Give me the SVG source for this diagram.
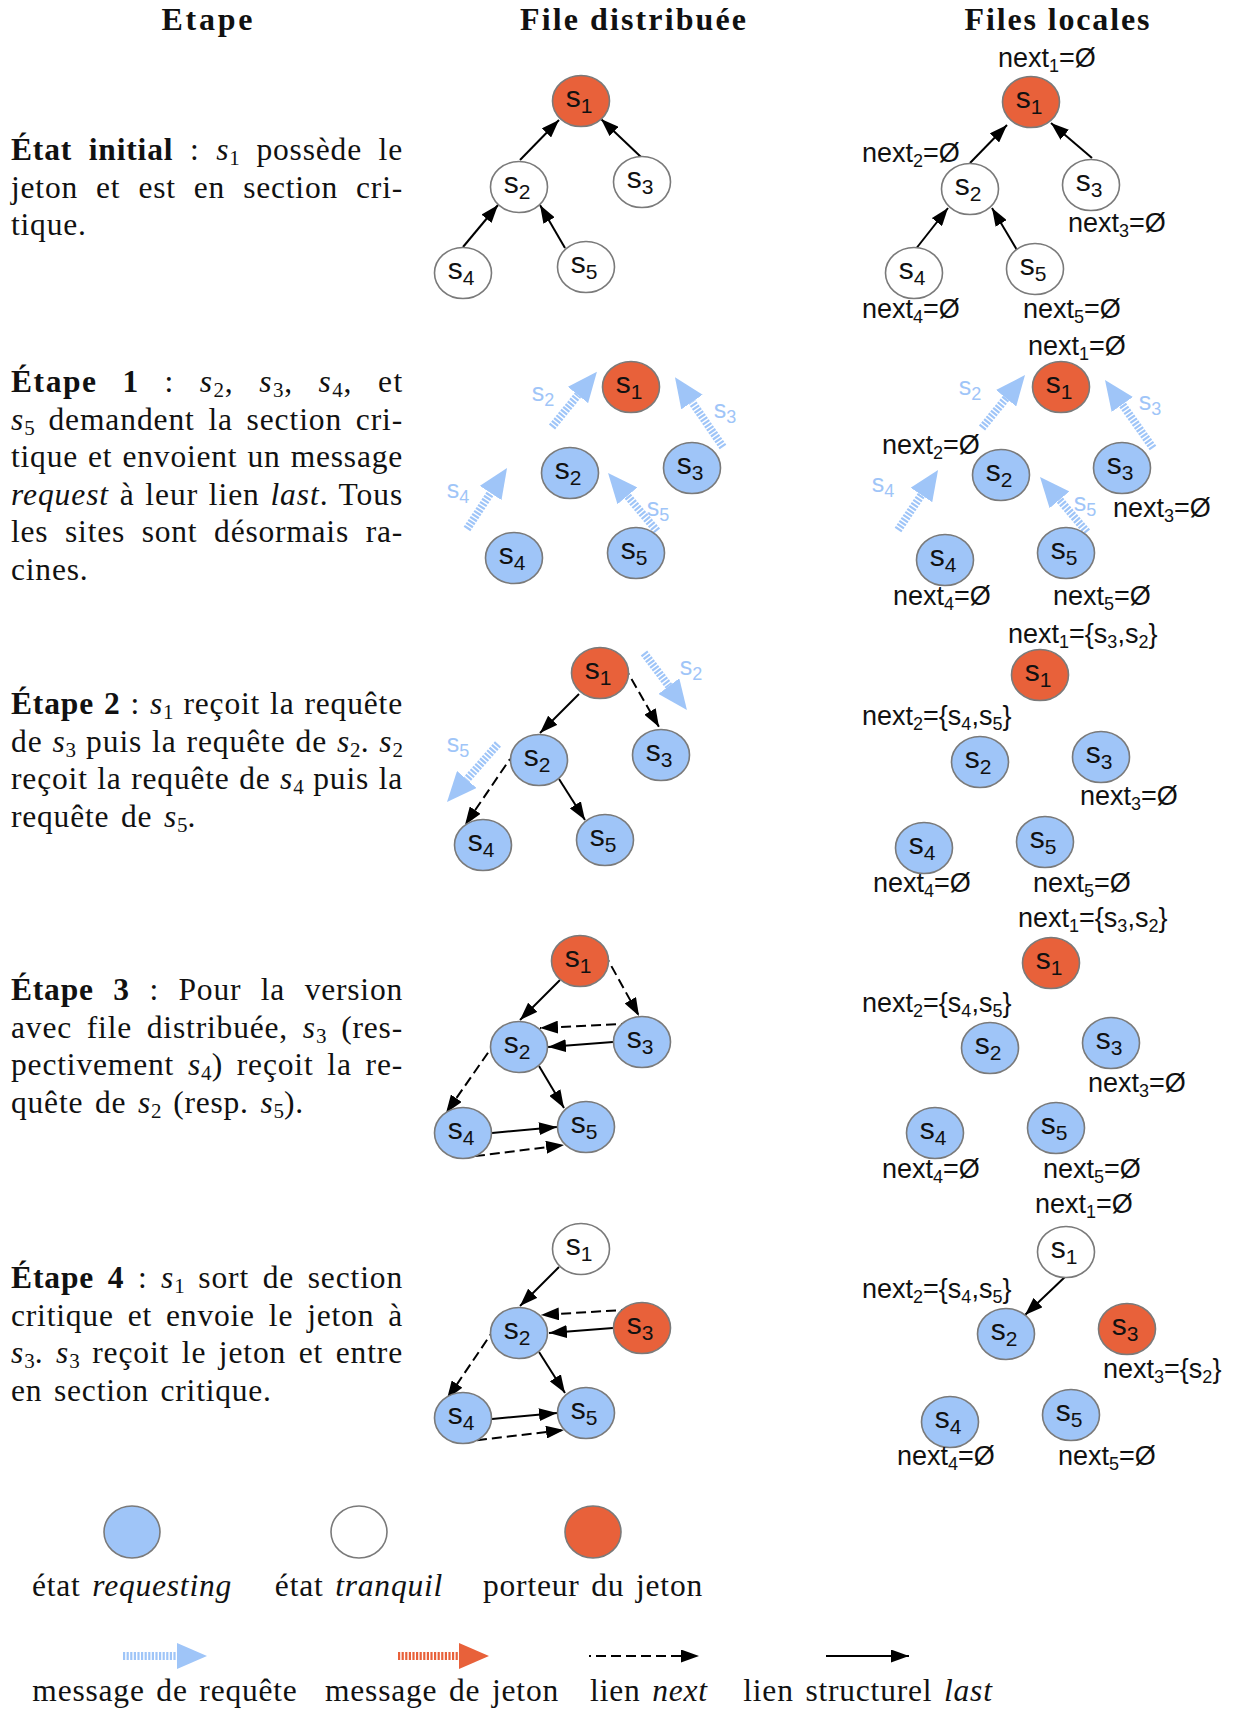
<svg xmlns="http://www.w3.org/2000/svg" width="1240" height="1711" viewBox="0 0 1240 1711">
  <style>
    .nd { stroke: #7a7a7a; stroke-width: 1.6; }
    .rqs { fill: #9fc5f8; }
    .tok { fill: #e8613a; }
    .idle { fill: #ffffff; }
    .lbl { font-family: "Liberation Sans", Arial, sans-serif; font-size: 30px; fill: #111; text-anchor: middle; }
    .lbl .sb { font-size: 21px; }
    .nx { font-family: "Liberation Sans", Arial, sans-serif; font-size: 27px; fill: #111; }
    .nx .sb { font-size: 18px; }
    .rl { font-family: "Liberation Sans", Arial, sans-serif; font-size: 25px; fill: #9fc5f8; text-anchor: middle; }
    .rl .sb { font-size: 18px; }
    .tx { font-family: "Liberation Serif", "Times New Roman", serif; font-size: 31.5px; letter-spacing: 0.8px; word-spacing: 3px; fill: #111; }
    .tx .sb { font-size: 21px; letter-spacing: 0; }
    .b { font-weight: bold; }
    .i { font-style: italic; }
    .hd { font-family: "Liberation Serif", "Times New Roman", serif; font-size: 32px; font-weight: bold; fill: #111; text-anchor: middle; }
    .last { stroke: #000; stroke-width: 2; fill: none; marker-end: url(#ah); }
    .next { stroke: #000; stroke-width: 2; fill: none; stroke-dasharray: 2 5 10 5 10 5 10 5 10 5 10 5 10 5 10 5; marker-end: url(#ah); }
    .msg { stroke: #9fc5f8; stroke-width: 8; fill: none; stroke-dasharray: 2.2 1.4; marker-end: url(#rh); }
    .tmsg { stroke: #e8613a; stroke-width: 8; fill: none; stroke-dasharray: 2.2 1.4; marker-end: url(#th); }
  </style>
  <defs>
    <marker id="ah" viewBox="0 0 18 13" refX="18" refY="6.5" markerWidth="18" markerHeight="13" markerUnits="userSpaceOnUse" orient="auto">
      <path d="M0,0 L18,6.5 L0,13 z" fill="#000"/>
    </marker>
    <marker id="rh" viewBox="0 0 30 26" refX="0" refY="13" markerWidth="30" markerHeight="26" markerUnits="userSpaceOnUse" orient="auto">
      <path d="M0,0 L30,13 L0,26 z" fill="#9fc5f8"/>
    </marker>
    <marker id="th" viewBox="0 0 30 26" refX="0" refY="13" markerWidth="30" markerHeight="26" markerUnits="userSpaceOnUse" orient="auto">
      <path d="M0,0 L30,13 L0,26 z" fill="#e8613a"/>
    </marker>
  </defs>
  <rect width="1240" height="1711" fill="#fff"/>

  <!-- column headings -->
  <g id="headings">
    <text class="hd" x="207" y="30" textLength="91" lengthAdjust="spacing">Etape</text>
    <text class="hd" x="633" y="30" textLength="226" lengthAdjust="spacing">File distribuée</text>
    <text class="hd" x="1057" y="30" textLength="185" lengthAdjust="spacing">Files locales</text>
  </g>

  <!-- step descriptions (justified lines: word gaps widened, then fitted to the column width) -->
  <g id="descriptions">
    <text class="tx" x="11" y="160" style="word-spacing:7.9px" textLength="392" lengthAdjust="spacing"><tspan class="b">État initial</tspan> : <tspan class="i">s</tspan><tspan class="sb" dy="5">1</tspan><tspan dy="-5"> possède le</tspan></text>
    <text class="tx" x="11" y="197.5" style="word-spacing:9.3px" textLength="392" lengthAdjust="spacing">jeton et est en section cri-</text>
    <text class="tx" x="11" y="235">tique.</text>

    <text class="tx" x="11" y="392" style="word-spacing:15.4px" textLength="392" lengthAdjust="spacing"><tspan class="b">Étape 1</tspan> : <tspan class="i">s</tspan><tspan class="sb" dy="5">2</tspan><tspan dy="-5">, </tspan><tspan class="i">s</tspan><tspan class="sb" dy="5">3</tspan><tspan dy="-5">, </tspan><tspan class="i">s</tspan><tspan class="sb" dy="5">4</tspan><tspan dy="-5">, et</tspan></text>
    <text class="tx" x="11" y="429.5" style="word-spacing:4.9px" textLength="392" lengthAdjust="spacing"><tspan class="i">s</tspan><tspan class="sb" dy="5">5</tspan><tspan dy="-5"> demandent la section cri-</tspan></text>
    <text class="tx" x="11" y="467" style="word-spacing:1.4px" textLength="392" lengthAdjust="spacing">tique et envoient un message</text>
    <text class="tx" x="11" y="504.5" style="word-spacing:1.9px" textLength="392" lengthAdjust="spacing"><tspan class="i">request</tspan> à leur lien <tspan class="i">last</tspan>. Tous</text>
    <text class="tx" x="11" y="542" style="word-spacing:8px" textLength="392" lengthAdjust="spacing">les sites sont désormais ra-</text>
    <text class="tx" x="11" y="579.5">cines.</text>

    <text class="tx" x="11" y="714" style="word-spacing:1.2px" textLength="392" lengthAdjust="spacing"><tspan class="b">Étape 2</tspan> : <tspan class="i">s</tspan><tspan class="sb" dy="5">1</tspan><tspan dy="-5"> reçoit la requête</tspan></text>
    <text class="tx" x="11" y="751.5" style="word-spacing:1.1px" textLength="392" lengthAdjust="spacing">de <tspan class="i">s</tspan><tspan class="sb" dy="5">3</tspan><tspan dy="-5"> puis la requête de </tspan><tspan class="i">s</tspan><tspan class="sb" dy="5">2</tspan><tspan dy="-5">. </tspan><tspan class="i">s</tspan><tspan class="sb" dy="5">2</tspan></text>
    <text class="tx" x="11" y="789" style="word-spacing:0.8px" textLength="392" lengthAdjust="spacing">reçoit la requête de <tspan class="i">s</tspan><tspan class="sb" dy="5">4</tspan><tspan dy="-5"> puis la</tspan></text>
    <text class="tx" x="11" y="826.5">requête de <tspan class="i">s</tspan><tspan class="sb" dy="5">5</tspan><tspan dy="-5">.</tspan></text>

    <text class="tx" x="11" y="1000" style="word-spacing:10.9px" textLength="392" lengthAdjust="spacing"><tspan class="b">Étape 3</tspan> : Pour la version</text>
    <text class="tx" x="11" y="1037.5" style="word-spacing:6px" textLength="392" lengthAdjust="spacing">avec file distribuée, <tspan class="i">s</tspan><tspan class="sb" dy="5">3</tspan><tspan dy="-5"> (res-</tspan></text>
    <text class="tx" x="11" y="1075" style="word-spacing:5.1px" textLength="392" lengthAdjust="spacing">pectivement <tspan class="i">s</tspan><tspan class="sb" dy="5">4</tspan><tspan dy="-5">) reçoit la re-</tspan></text>
    <text class="tx" x="11" y="1112.5">quête de <tspan class="i">s</tspan><tspan class="sb" dy="5">2</tspan><tspan dy="-5"> (resp. </tspan><tspan class="i">s</tspan><tspan class="sb" dy="5">5</tspan><tspan dy="-5">).</tspan></text>

    <text class="tx" x="11" y="1288" style="word-spacing:4.8px" textLength="392" lengthAdjust="spacing"><tspan class="b">Étape 4</tspan> : <tspan class="i">s</tspan><tspan class="sb" dy="5">1</tspan><tspan dy="-5"> sort de section</tspan></text>
    <text class="tx" x="11" y="1325.5" style="word-spacing:5.3px" textLength="392" lengthAdjust="spacing">critique et envoie le jeton à</text>
    <text class="tx" x="11" y="1363" style="word-spacing:3.8px" textLength="392" lengthAdjust="spacing"><tspan class="i">s</tspan><tspan class="sb" dy="5">3</tspan><tspan dy="-5">. </tspan><tspan class="i">s</tspan><tspan class="sb" dy="5">3</tspan><tspan dy="-5"> reçoit le jeton et entre</tspan></text>
    <text class="tx" x="11" y="1400.5">en section critique.</text>
  </g>

  <!-- links: solid = last, dashed = next, striped = request messages -->
  <g id="connectors">
    <!-- initial state -->
    <path class="last" d="M520,160 L559,120"/>
    <path class="last" d="M641,157 L601,119"/>
    <path class="last" d="M463,247 L498,205"/>
    <path class="last" d="M565,248 L540,205"/>
    <path class="last" d="M970,163 L1007,125"/>
    <path class="last" d="M1092,158 L1051,123"/>
    <path class="last" d="M915,250 L948,208"/>
    <path class="last" d="M1017,250 L992,208"/>
    <!-- step 1 -->
    <path class="msg" d="M552,427 L578,395"/>
    <path class="msg" d="M723,447 L692,402"/>
    <path class="msg" d="M467,529 L490.6,493"/>
    <path class="msg" d="M657,531 L627.4,495.9"/>
    <path class="msg" d="M982,428 L1006.1,398.3"/>
    <path class="msg" d="M1153,448 L1122.3,404.5"/>
    <path class="msg" d="M898,530 L921.4,495"/>
    <path class="msg" d="M1087,532 L1059.5,499.8"/>
    <!-- step 2 -->
    <path class="last" d="M579,694 L540,733"/>
    <path class="next" d="M628,673 L659,727"/>
    <path class="next" d="M510,759 L465,825"/>
    <path class="last" d="M559,779 L585,820"/>
    <path class="msg" d="M644,653 L668.9,686.1"/>
    <path class="msg" d="M498,744 L466.8,779.5"/>
    <!-- step 3 -->
    <path class="last" d="M560,980 L520,1020"/>
    <path class="next" d="M608,960 L639,1016"/>
    <path class="next" d="M623,1024 L540,1028"/>
    <path class="last" d="M613,1042 L548,1047"/>
    <path class="next" d="M492,1047 L446,1113"/>
    <path class="last" d="M539,1066 L564,1108"/>
    <path class="last" d="M492,1133 L557,1127"/>
    <path class="next" d="M468,1157 L564,1145"/>
    <!-- step 4 -->
    <path class="last" d="M559,1267 L520,1306"/>
    <path class="next" d="M623,1310 L541,1315"/>
    <path class="last" d="M613,1328 L549,1333"/>
    <path class="next" d="M491,1334 L447,1399"/>
    <path class="last" d="M539,1352 L565,1393"/>
    <path class="last" d="M492,1419 L557,1413"/>
    <path class="next" d="M470,1441 L564,1430"/>
    <path class="last" d="M1067,1275 L1025,1315"/>
  </g>

  <!-- request message labels -->
  <g id="message-labels">
    <text class="rl" x="543" y="401">s<tspan class="sb" dy="5">2</tspan></text>
    <text class="rl" x="725" y="418">s<tspan class="sb" dy="5">3</tspan></text>
    <text class="rl" x="458" y="498">s<tspan class="sb" dy="5">4</tspan></text>
    <text class="rl" x="658" y="516">s<tspan class="sb" dy="5">5</tspan></text>
    <text class="rl" x="970" y="395">s<tspan class="sb" dy="5">2</tspan></text>
    <text class="rl" x="1150" y="410">s<tspan class="sb" dy="5">3</tspan></text>
    <text class="rl" x="883" y="492">s<tspan class="sb" dy="5">4</tspan></text>
    <text class="rl" x="1085" y="511">s<tspan class="sb" dy="5">5</tspan></text>
    <text class="rl" x="691" y="675">s<tspan class="sb" dy="5">2</tspan></text>
    <text class="rl" x="458" y="752">s<tspan class="sb" dy="5">5</tspan></text>
  </g>

  <!-- initial state, distributed queue -->
  <g id="i-d-s1"><ellipse class="nd tok" cx="581" cy="101" rx="28.5" ry="25.5"/><text class="lbl" x="579" y="107">s<tspan class="sb" dy="6">1</tspan></text></g>
  <g id="i-d-s2"><ellipse class="nd idle" cx="519" cy="187" rx="28.5" ry="25.5"/><text class="lbl" x="517" y="193">s<tspan class="sb" dy="6">2</tspan></text></g>
  <g id="i-d-s3"><ellipse class="nd idle" cx="642" cy="182" rx="28.5" ry="25.5"/><text class="lbl" x="640" y="188">s<tspan class="sb" dy="6">3</tspan></text></g>
  <g id="i-d-s4"><ellipse class="nd idle" cx="463" cy="273" rx="28.5" ry="25.5"/><text class="lbl" x="461" y="279">s<tspan class="sb" dy="6">4</tspan></text></g>
  <g id="i-d-s5"><ellipse class="nd idle" cx="586" cy="267" rx="28.5" ry="25.5"/><text class="lbl" x="584" y="273">s<tspan class="sb" dy="6">5</tspan></text></g>
  <!-- initial state, local queues -->
  <g id="i-l-s1"><ellipse class="nd tok" cx="1031" cy="102" rx="28.5" ry="25.5"/><text class="lbl" x="1029" y="108">s<tspan class="sb" dy="6">1</tspan></text></g>
  <g id="i-l-s2"><ellipse class="nd idle" cx="970" cy="189" rx="28.5" ry="25.5"/><text class="lbl" x="968" y="195">s<tspan class="sb" dy="6">2</tspan></text></g>
  <g id="i-l-s3"><ellipse class="nd idle" cx="1091" cy="185" rx="28.5" ry="25.5"/><text class="lbl" x="1089" y="191">s<tspan class="sb" dy="6">3</tspan></text></g>
  <g id="i-l-s4"><ellipse class="nd idle" cx="914" cy="273" rx="28.5" ry="25.5"/><text class="lbl" x="912" y="279">s<tspan class="sb" dy="6">4</tspan></text></g>
  <g id="i-l-s5"><ellipse class="nd idle" cx="1035" cy="269" rx="28.5" ry="25.5"/><text class="lbl" x="1033" y="275">s<tspan class="sb" dy="6">5</tspan></text></g>

  <!-- step 1 -->
  <g id="e1-d-s1"><ellipse class="nd tok" cx="631" cy="387" rx="28.5" ry="25.5"/><text class="lbl" x="629" y="393">s<tspan class="sb" dy="6">1</tspan></text></g>
  <g id="e1-d-s2"><ellipse class="nd rqs" cx="570" cy="473" rx="28.5" ry="25.5"/><text class="lbl" x="568" y="479">s<tspan class="sb" dy="6">2</tspan></text></g>
  <g id="e1-d-s3"><ellipse class="nd rqs" cx="692" cy="468" rx="28.5" ry="25.5"/><text class="lbl" x="690" y="474">s<tspan class="sb" dy="6">3</tspan></text></g>
  <g id="e1-d-s4"><ellipse class="nd rqs" cx="514" cy="558" rx="28.5" ry="25.5"/><text class="lbl" x="512" y="564">s<tspan class="sb" dy="6">4</tspan></text></g>
  <g id="e1-d-s5"><ellipse class="nd rqs" cx="636" cy="553" rx="28.5" ry="25.5"/><text class="lbl" x="634" y="559">s<tspan class="sb" dy="6">5</tspan></text></g>
  <g id="e1-l-s1"><ellipse class="nd tok" cx="1061" cy="387" rx="28.5" ry="25.5"/><text class="lbl" x="1059" y="393">s<tspan class="sb" dy="6">1</tspan></text></g>
  <g id="e1-l-s2"><ellipse class="nd rqs" cx="1001" cy="475" rx="28.5" ry="25.5"/><text class="lbl" x="999" y="481">s<tspan class="sb" dy="6">2</tspan></text></g>
  <g id="e1-l-s3"><ellipse class="nd rqs" cx="1122" cy="468" rx="28.5" ry="25.5"/><text class="lbl" x="1120" y="474">s<tspan class="sb" dy="6">3</tspan></text></g>
  <g id="e1-l-s4"><ellipse class="nd rqs" cx="945" cy="560" rx="28.5" ry="25.5"/><text class="lbl" x="943" y="566">s<tspan class="sb" dy="6">4</tspan></text></g>
  <g id="e1-l-s5"><ellipse class="nd rqs" cx="1066" cy="553" rx="28.5" ry="25.5"/><text class="lbl" x="1064" y="559">s<tspan class="sb" dy="6">5</tspan></text></g>

  <!-- step 2 -->
  <g id="e2-d-s1"><ellipse class="nd tok" cx="600" cy="673" rx="28.5" ry="25.5"/><text class="lbl" x="598" y="679">s<tspan class="sb" dy="6">1</tspan></text></g>
  <g id="e2-d-s2"><ellipse class="nd rqs" cx="539" cy="760" rx="28.5" ry="25.5"/><text class="lbl" x="537" y="766">s<tspan class="sb" dy="6">2</tspan></text></g>
  <g id="e2-d-s3"><ellipse class="nd rqs" cx="661" cy="755" rx="28.5" ry="25.5"/><text class="lbl" x="659" y="761">s<tspan class="sb" dy="6">3</tspan></text></g>
  <g id="e2-d-s4"><ellipse class="nd rqs" cx="483" cy="845" rx="28.5" ry="25.5"/><text class="lbl" x="481" y="851">s<tspan class="sb" dy="6">4</tspan></text></g>
  <g id="e2-d-s5"><ellipse class="nd rqs" cx="605" cy="840" rx="28.5" ry="25.5"/><text class="lbl" x="603" y="846">s<tspan class="sb" dy="6">5</tspan></text></g>
  <g id="e2-l-s1"><ellipse class="nd tok" cx="1040" cy="675" rx="28.5" ry="25.5"/><text class="lbl" x="1038" y="681">s<tspan class="sb" dy="6">1</tspan></text></g>
  <g id="e2-l-s2"><ellipse class="nd rqs" cx="980" cy="762" rx="28.5" ry="25.5"/><text class="lbl" x="978" y="768">s<tspan class="sb" dy="6">2</tspan></text></g>
  <g id="e2-l-s3"><ellipse class="nd rqs" cx="1101" cy="757" rx="28.5" ry="25.5"/><text class="lbl" x="1099" y="763">s<tspan class="sb" dy="6">3</tspan></text></g>
  <g id="e2-l-s4"><ellipse class="nd rqs" cx="924" cy="848" rx="28.5" ry="25.5"/><text class="lbl" x="922" y="854">s<tspan class="sb" dy="6">4</tspan></text></g>
  <g id="e2-l-s5"><ellipse class="nd rqs" cx="1045" cy="842" rx="28.5" ry="25.5"/><text class="lbl" x="1043" y="848">s<tspan class="sb" dy="6">5</tspan></text></g>

  <!-- step 3 -->
  <g id="e3-d-s1"><ellipse class="nd tok" cx="580" cy="961" rx="28.5" ry="25.5"/><text class="lbl" x="578" y="967">s<tspan class="sb" dy="6">1</tspan></text></g>
  <g id="e3-d-s2"><ellipse class="nd rqs" cx="519" cy="1047" rx="28.5" ry="25.5"/><text class="lbl" x="517" y="1053">s<tspan class="sb" dy="6">2</tspan></text></g>
  <g id="e3-d-s3"><ellipse class="nd rqs" cx="642" cy="1042" rx="28.5" ry="25.5"/><text class="lbl" x="640" y="1048">s<tspan class="sb" dy="6">3</tspan></text></g>
  <g id="e3-d-s4"><ellipse class="nd rqs" cx="463" cy="1133" rx="28.5" ry="25.5"/><text class="lbl" x="461" y="1139">s<tspan class="sb" dy="6">4</tspan></text></g>
  <g id="e3-d-s5"><ellipse class="nd rqs" cx="586" cy="1127" rx="28.5" ry="25.5"/><text class="lbl" x="584" y="1133">s<tspan class="sb" dy="6">5</tspan></text></g>
  <g id="e3-l-s1"><ellipse class="nd tok" cx="1051" cy="963" rx="28.5" ry="25.5"/><text class="lbl" x="1049" y="969">s<tspan class="sb" dy="6">1</tspan></text></g>
  <g id="e3-l-s2"><ellipse class="nd rqs" cx="990" cy="1048" rx="28.5" ry="25.5"/><text class="lbl" x="988" y="1054">s<tspan class="sb" dy="6">2</tspan></text></g>
  <g id="e3-l-s3"><ellipse class="nd rqs" cx="1111" cy="1043" rx="28.5" ry="25.5"/><text class="lbl" x="1109" y="1049">s<tspan class="sb" dy="6">3</tspan></text></g>
  <g id="e3-l-s4"><ellipse class="nd rqs" cx="935" cy="1133" rx="28.5" ry="25.5"/><text class="lbl" x="933" y="1139">s<tspan class="sb" dy="6">4</tspan></text></g>
  <g id="e3-l-s5"><ellipse class="nd rqs" cx="1056" cy="1128" rx="28.5" ry="25.5"/><text class="lbl" x="1054" y="1134">s<tspan class="sb" dy="6">5</tspan></text></g>

  <!-- step 4 -->
  <g id="e4-d-s1"><ellipse class="nd idle" cx="581" cy="1249" rx="28.5" ry="25.5"/><text class="lbl" x="579" y="1255">s<tspan class="sb" dy="6">1</tspan></text></g>
  <g id="e4-d-s2"><ellipse class="nd rqs" cx="519" cy="1333" rx="28.5" ry="25.5"/><text class="lbl" x="517" y="1339">s<tspan class="sb" dy="6">2</tspan></text></g>
  <g id="e4-d-s3"><ellipse class="nd tok" cx="642" cy="1328" rx="28.5" ry="25.5"/><text class="lbl" x="640" y="1334">s<tspan class="sb" dy="6">3</tspan></text></g>
  <g id="e4-d-s4"><ellipse class="nd rqs" cx="463" cy="1418" rx="28.5" ry="25.5"/><text class="lbl" x="461" y="1424">s<tspan class="sb" dy="6">4</tspan></text></g>
  <g id="e4-d-s5"><ellipse class="nd rqs" cx="586" cy="1413" rx="28.5" ry="25.5"/><text class="lbl" x="584" y="1419">s<tspan class="sb" dy="6">5</tspan></text></g>
  <g id="e4-l-s1"><ellipse class="nd idle" cx="1066" cy="1252" rx="28.5" ry="25.5"/><text class="lbl" x="1064" y="1258">s<tspan class="sb" dy="6">1</tspan></text></g>
  <g id="e4-l-s2"><ellipse class="nd rqs" cx="1006" cy="1334" rx="28.5" ry="25.5"/><text class="lbl" x="1004" y="1340">s<tspan class="sb" dy="6">2</tspan></text></g>
  <g id="e4-l-s3"><ellipse class="nd tok" cx="1127" cy="1329" rx="28.5" ry="25.5"/><text class="lbl" x="1125" y="1335">s<tspan class="sb" dy="6">3</tspan></text></g>
  <g id="e4-l-s4"><ellipse class="nd rqs" cx="950" cy="1422" rx="28.5" ry="25.5"/><text class="lbl" x="948" y="1428">s<tspan class="sb" dy="6">4</tspan></text></g>
  <g id="e4-l-s5"><ellipse class="nd rqs" cx="1071" cy="1415" rx="28.5" ry="25.5"/><text class="lbl" x="1069" y="1421">s<tspan class="sb" dy="6">5</tspan></text></g>

  <!-- local next sets -->
  <g id="next-sets">
    <text class="nx" x="998" y="67">next<tspan class="sb" dy="5">1</tspan><tspan dy="-5">=Ø</tspan></text>
    <text class="nx" x="862" y="162">next<tspan class="sb" dy="5">2</tspan><tspan dy="-5">=Ø</tspan></text>
    <text class="nx" x="1068" y="232">next<tspan class="sb" dy="5">3</tspan><tspan dy="-5">=Ø</tspan></text>
    <text class="nx" x="862" y="318">next<tspan class="sb" dy="5">4</tspan><tspan dy="-5">=Ø</tspan></text>
    <text class="nx" x="1023" y="318">next<tspan class="sb" dy="5">5</tspan><tspan dy="-5">=Ø</tspan></text>

    <text class="nx" x="1028" y="355">next<tspan class="sb" dy="5">1</tspan><tspan dy="-5">=Ø</tspan></text>
    <text class="nx" x="882" y="454">next<tspan class="sb" dy="5">2</tspan><tspan dy="-5">=Ø</tspan></text>
    <text class="nx" x="1113" y="517">next<tspan class="sb" dy="5">3</tspan><tspan dy="-5">=Ø</tspan></text>
    <text class="nx" x="893" y="605">next<tspan class="sb" dy="5">4</tspan><tspan dy="-5">=Ø</tspan></text>
    <text class="nx" x="1053" y="605">next<tspan class="sb" dy="5">5</tspan><tspan dy="-5">=Ø</tspan></text>

    <text class="nx" x="1008" y="643">next<tspan class="sb" dy="5">1</tspan><tspan dy="-5">={s</tspan><tspan class="sb" dy="5">3</tspan><tspan dy="-5">,s</tspan><tspan class="sb" dy="5">2</tspan><tspan dy="-5">}</tspan></text>
    <text class="nx" x="862" y="725">next<tspan class="sb" dy="5">2</tspan><tspan dy="-5">={s</tspan><tspan class="sb" dy="5">4</tspan><tspan dy="-5">,s</tspan><tspan class="sb" dy="5">5</tspan><tspan dy="-5">}</tspan></text>
    <text class="nx" x="1080" y="805">next<tspan class="sb" dy="5">3</tspan><tspan dy="-5">=Ø</tspan></text>
    <text class="nx" x="873" y="892">next<tspan class="sb" dy="5">4</tspan><tspan dy="-5">=Ø</tspan></text>
    <text class="nx" x="1033" y="892">next<tspan class="sb" dy="5">5</tspan><tspan dy="-5">=Ø</tspan></text>

    <text class="nx" x="1018" y="927">next<tspan class="sb" dy="5">1</tspan><tspan dy="-5">={s</tspan><tspan class="sb" dy="5">3</tspan><tspan dy="-5">,s</tspan><tspan class="sb" dy="5">2</tspan><tspan dy="-5">}</tspan></text>
    <text class="nx" x="862" y="1012">next<tspan class="sb" dy="5">2</tspan><tspan dy="-5">={s</tspan><tspan class="sb" dy="5">4</tspan><tspan dy="-5">,s</tspan><tspan class="sb" dy="5">5</tspan><tspan dy="-5">}</tspan></text>
    <text class="nx" x="1088" y="1092">next<tspan class="sb" dy="5">3</tspan><tspan dy="-5">=Ø</tspan></text>
    <text class="nx" x="882" y="1178">next<tspan class="sb" dy="5">4</tspan><tspan dy="-5">=Ø</tspan></text>
    <text class="nx" x="1043" y="1178">next<tspan class="sb" dy="5">5</tspan><tspan dy="-5">=Ø</tspan></text>

    <text class="nx" x="1035" y="1213">next<tspan class="sb" dy="5">1</tspan><tspan dy="-5">=Ø</tspan></text>
    <text class="nx" x="862" y="1298">next<tspan class="sb" dy="5">2</tspan><tspan dy="-5">={s</tspan><tspan class="sb" dy="5">4</tspan><tspan dy="-5">,s</tspan><tspan class="sb" dy="5">5</tspan><tspan dy="-5">}</tspan></text>
    <text class="nx" x="1103" y="1378">next<tspan class="sb" dy="5">3</tspan><tspan dy="-5">={s</tspan><tspan class="sb" dy="5">2</tspan><tspan dy="-5">}</tspan></text>
    <text class="nx" x="897" y="1465">next<tspan class="sb" dy="5">4</tspan><tspan dy="-5">=Ø</tspan></text>
    <text class="nx" x="1058" y="1465">next<tspan class="sb" dy="5">5</tspan><tspan dy="-5">=Ø</tspan></text>
  </g>

  <!-- legend -->
  <g id="legend">
    <ellipse class="nd rqs" cx="132" cy="1532" rx="28" ry="26"/>
    <ellipse class="nd idle" cx="359" cy="1532" rx="28" ry="26"/>
    <ellipse class="nd tok" cx="593" cy="1532" rx="28" ry="26"/>
    <text class="tx" x="132" y="1596" text-anchor="middle">état <tspan class="i">requesting</tspan></text>
    <text class="tx" x="359" y="1596" text-anchor="middle">état <tspan class="i">tranquil</tspan></text>
    <text class="tx" x="593" y="1596" text-anchor="middle">porteur du jeton</text>
    <path class="msg" d="M123,1656 L177,1656"/>
    <path class="tmsg" d="M398,1656 L459,1656"/>
    <path class="next" d="M589,1656 L699,1656"/>
    <path class="last" d="M826,1656 L909,1656"/>
    <text class="tx" x="165" y="1701" text-anchor="middle">message de requête</text>
    <text class="tx" x="442" y="1701" text-anchor="middle">message de jeton</text>
    <text class="tx" x="649" y="1701" text-anchor="middle">lien <tspan class="i">next</tspan></text>
    <text class="tx" x="868" y="1701" text-anchor="middle">lien structurel <tspan class="i">last</tspan></text>
  </g>
</svg>
